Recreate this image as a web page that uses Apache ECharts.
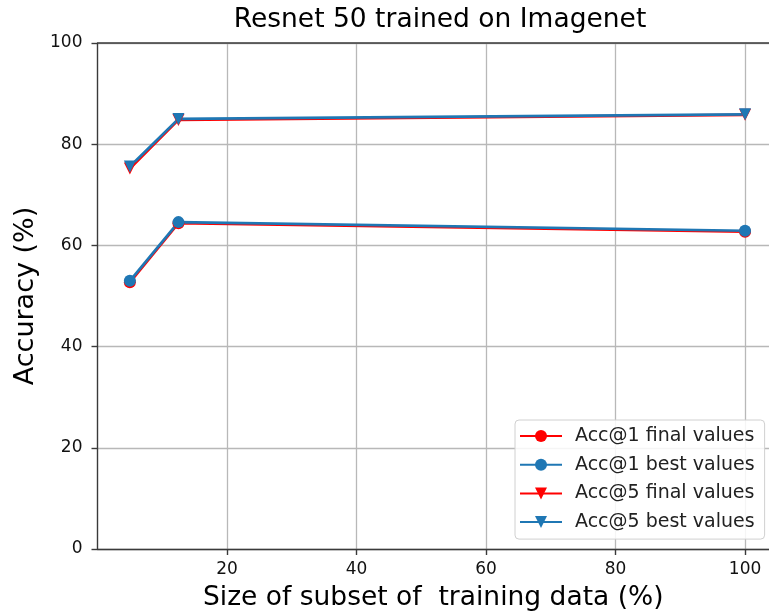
<!DOCTYPE html>
<html>
<head>
<meta charset="utf-8">
<script src="https://cdn.jsdelivr.net/npm/echarts@6/dist/echarts.min.js"></script>
<style>
html,body{margin:0;padding:0;background:#fff;}
#chart{width:769px;height:613px;}
</style>
</head>
<body>
<div id="chart"></div>
<script>
const subsetSizes = [5, 12.5, 100];
const acc1Final = [52.7, 64.4, 62.7];
const acc1Best = [53.0, 64.6, 62.9];
const acc5Final = [75.2, 84.8, 85.8];
const acc5Best = [75.6, 85.0, 85.9];
const yTicks = [0, 20, 40, 60, 80, 100];
const xTicks = [20, 40, 60, 80, 100];

const FONT = 'DejaVu Sans';
const RED = '#ff0000';
const BLUE = '#1f77b4';
const SPINE = '#3a3a3a';

function pairs(ys) { return subsetSizes.map((x, i) => [x, ys[i]]); }

function mkSeries(name, ys, color, symbol) {
  return {
    name: name,
    type: 'line',
    data: pairs(ys),
    symbol: symbol,
    symbolRotate: symbol === 'triangle' ? 180 : 0,
    symbolSize: 12,
    showAllSymbol: true,
    lineStyle: { color: color, width: 2.7 },
    itemStyle: { color: color, borderWidth: 0 },
    emphasis: { disabled: true },
    animation: false
  };
}

const chart = echarts.init(document.getElementById('chart'));
chart.setOption({
  backgroundColor: '#ffffff',
  animation: false,
  title: {
    text: 'Resnet 50 trained on Imagenet',
    left: 440,
    top: 7,
    padding: 0,
    textAlign: 'center',
    textStyle: { fontFamily: FONT, fontSize: 26.5, fontWeight: 'normal', color: '#000' }
  },
  grid: { left: 97.5, right: 0, top: 43, bottom: 64, containLabel: false, outerBoundsMode: 'none' },
  xAxis: {
    type: 'value',
    min: 0,
    max: 103.7,
    interval: 20,
    name: 'Size of subset of  training data (%)',
    nameLocation: 'middle',
    nameGap: 36,
    nameTextStyle: { fontFamily: FONT, fontSize: 26.5, color: '#000' },
    axisLine: { show: true, onZero: false, lineStyle: { color: SPINE, width: 1.4 } },
    axisTick: { show: true, length: 6, inside: false, lineStyle: { color: SPINE, width: 1.4 },
      customValues: xTicks },
    axisLabel: { fontFamily: FONT, fontSize: 17, color: '#111', margin: 12,
      customValues: xTicks },
    splitLine: { show: true, lineStyle: { color: '#b8b8b8', width: 1.3 } }
  },
  yAxis: {
    type: 'value',
    min: 0,
    max: 100,
    interval: 20,
    name: 'Accuracy (%)',
    nameLocation: 'middle',
    nameGap: 57,
    nameRotate: 90,
    nameTextStyle: { fontFamily: FONT, fontSize: 27, color: '#000' },
    axisLine: { show: true, lineStyle: { color: SPINE, width: 1.4 } },
    axisTick: { show: true, length: 6, inside: false, lineStyle: { color: SPINE, width: 1.4 } },
    axisLabel: { fontFamily: FONT, fontSize: 17, color: '#111', margin: 15 },
    splitLine: { show: true, lineStyle: { color: '#b8b8b8', width: 1.3 } }
  },
  graphic: [{
    type: 'line',
    shape: { x1: 97.5, y1: 43, x2: 769, y2: 43 },
    style: { stroke: SPINE, lineWidth: 1.4 },
    silent: true,
    z: 10
  }],
  legend: {
    orient: 'vertical',
    left: 515,
    top: 420,
    width: 250,
    padding: [5, 10, 6, 4],
    itemWidth: 42,
    itemHeight: 15,
    itemGap: 6.7,
    backgroundColor: 'rgba(255,255,255,0.85)',
    borderColor: '#d0d0d0',
    borderWidth: 1,
    borderRadius: 4,
    textStyle: { fontFamily: FONT, fontSize: 19, color: '#222', lineHeight: 22, padding: [0, 0, 0, 8] },
    data: ['Acc@1 final values', 'Acc@1 best values', 'Acc@5 final values', 'Acc@5 best values']
  },
  series: [
    mkSeries('Acc@1 final values', acc1Final, RED, 'circle'),
    mkSeries('Acc@1 best values', acc1Best, BLUE, 'circle'),
    mkSeries('Acc@5 final values', acc5Final, RED, 'triangle'),
    mkSeries('Acc@5 best values', acc5Best, BLUE, 'triangle')
  ]
});
</script>
</body>
</html>
